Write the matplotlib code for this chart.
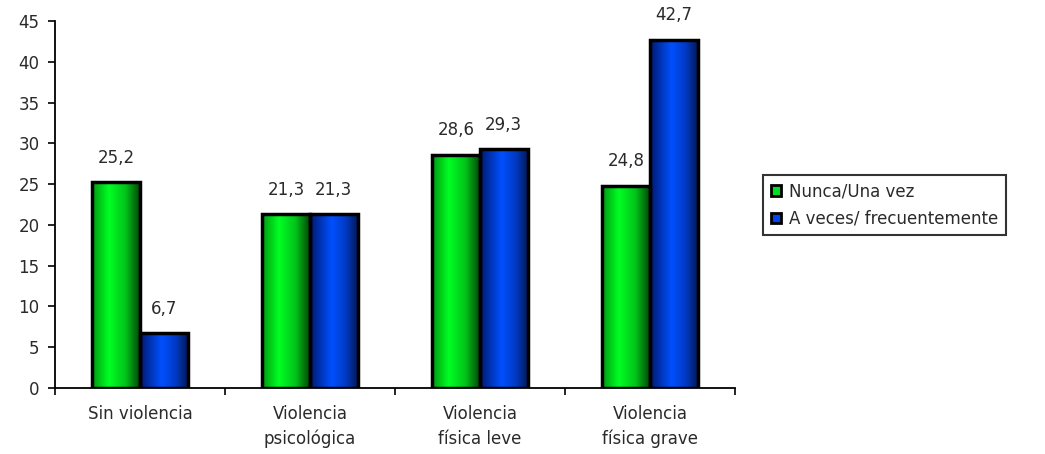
import matplotlib
matplotlib.use("Agg")
import matplotlib.pyplot as plt
import numpy as np
from matplotlib.colors import LinearSegmentedColormap
from matplotlib.patches import Patch

categories = ["Sin violencia", "Violencia\npsicológica", "Violencia\nfísica leve", "Violencia\nfísica grave"]
series_names = ["Nunca/Una vez", "A veces/ frecuentemente"]
nunca = [25.2, 21.3, 28.6, 24.8]
aveces = [6.7, 21.3, 29.3, 42.7]
yticks = [0, 5, 10, 15, 20, 25, 30, 35, 40, 45]

plt.rcParams['font.family'] = ['DejaVu Sans']

fig = plt.figure(figsize=(10.45, 4.54), dpi=100)
ax = fig.add_axes([55/1045, 66/454, 680/1045, (388-21)/454])

green_cmap = LinearSegmentedColormap.from_list("g", [(0, '#009a12'), (0.35, '#00ff22'), (0.7, '#00c41a'), (1, '#004a06')])
blue_cmap = LinearSegmentedColormap.from_list("b", [(0, '#001a70'), (0.45, '#0050ff'), (0.75, '#003ac4'), (1, '#001a5c')])
grad = np.linspace(0, 1, 64).reshape(1, -1)

x = np.arange(len(categories))
w = 0.28
fs = 12
tc = '#2a2a2a'

def draw(xs, vals, cmap):
    bars = ax.bar(xs, vals, width=w, facecolor='none', edgecolor='black', linewidth=2.5, zorder=3)
    for b in bars:
        im = ax.imshow(grad, cmap=cmap, aspect='auto', interpolation='bicubic',
                       extent=[b.get_x(), b.get_x() + b.get_width(), 0, b.get_height()], zorder=2)
        im.set_clip_path(b)
    return bars

b1 = draw(x - w/2, nunca, green_cmap)
b2 = draw(x + w/2, aveces, blue_cmap)

def fmt(v):
    return f"{v:.1f}".replace('.', ',')

for bars, vals in ((b1, nunca), (b2, aveces)):
    for b, v in zip(bars, vals):
        ax.annotate(fmt(v), (b.get_x() + b.get_width()/2, v), xytext=(0, 11),
                    textcoords='offset points', ha='center', va='bottom', fontsize=fs, color=tc)

ax.set_xlim(-0.5, 3.5)
ax.set_ylim(0, 45)
ax.set_yticks(yticks)
ax.set_xticks(x)
ax.set_xticklabels(categories, fontsize=fs, color=tc, linespacing=1.5)
ax.set_xticks(np.arange(-0.5, 3.6, 1), minor=True)
ax.tick_params(axis='x', which='major', length=0, pad=12)
ax.tick_params(axis='x', which='minor', length=5, width=1.2, direction='out')
ax.tick_params(axis='y', length=5, width=1.2, labelsize=fs, labelcolor=tc, pad=6)
for s in ('top', 'right'):
    ax.spines[s].set_visible(False)
for s in ('left', 'bottom'):
    ax.spines[s].set_linewidth(1.3)

handles = [Patch(facecolor='#00dd22', edgecolor='black', linewidth=2),
           Patch(facecolor='#0044ee', edgecolor='black', linewidth=2)]
leg = fig.legend(handles, series_names, loc='upper left', bbox_to_anchor=(763/1045, 1 - 175/454),
                 fontsize=fs, frameon=True, fancybox=False, handlelength=0.6, handleheight=0.6,
                 handletextpad=0.5, borderpad=0.45, labelspacing=0.55, borderaxespad=0)
leg.get_frame().set_edgecolor('black')
leg.get_frame().set_linewidth(1.5)
for t in leg.get_texts():
    t.set_color(tc)

fig.savefig("out.png", dpi=100)
